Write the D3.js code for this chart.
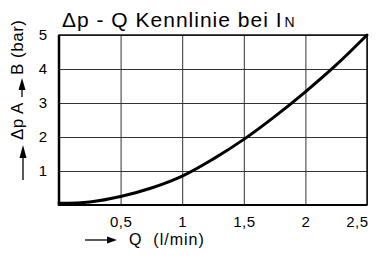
<!DOCTYPE html>
<html>
<head>
<meta charset="utf-8">
<script src="https://cdn.jsdelivr.net/npm/d3@7"></script>
<style>
  body { margin: 0; background: #fff; }
  text { font-family: "Liberation Sans", Arial, sans-serif; fill: #000; }
</style>
</head>
<body>
<div id="chart"></div>
<script>
// Werte
let durchfluss = [0, 0.25, 0.5, 0.75, 1, 1.25, 1.5, 1.75, 2, 2.25, 2.5]
let druck = [0.05, 0.09, 0.25, 0.5, 0.85, 1.35, 1.93, 2.6, 3.33, 4.12, 5.0]
let xTicks = [0.5, 1, 1.5, 2, 2.5]
let yTicks = [1, 2, 3, 4, 5]

let width = 379, height = 258
let margin = { top: 35, right: 12, bottom: 53, left: 59 }

let svg = d3.select("#chart").append("svg")
    .attr("width", width)
    .attr("height", height)

let x = d3.scaleLinear().domain([0, 2.5]).range([margin.left, width - margin.right])
let y = d3.scaleLinear().domain([0, 5]).range([height - margin.bottom, margin.top])

let komma = d => String(d).replace(".", ",")

// x Achse mit Gitter
let gx = svg.append("g")
    .attr("transform", "translate(0," + y(0) + ")")
    .call(d3.axisBottom(x).tickValues(xTicks).tickSize(-(y(0) - y(5))).tickPadding(11).tickFormat(komma))
gx.select(".domain").remove()
gx.selectAll(".tick line").attr("stroke", "#333").attr("stroke-width", 1)
gx.selectAll(".tick text").attr("font-size", "15px").attr("letter-spacing", "0.5px")
    .attr("font-family", "Liberation Sans, Arial, sans-serif")
gx.selectAll(".tick text").filter(d => d == 2.5).attr("text-anchor", "end").attr("x", 1)

// y Achse mit Gitter
let gy = svg.append("g")
    .attr("transform", "translate(" + x(0) + ",0)")
    .call(d3.axisLeft(y).tickValues(yTicks).tickSize(-(x(2.5) - x(0))).tickPadding(12).tickFormat(d => d))
gy.select(".domain").remove()
gy.selectAll(".tick line").attr("stroke", "#333").attr("stroke-width", 1)
gy.selectAll(".tick text").attr("font-size", "15px").attr("font-family", "Liberation Sans, Arial, sans-serif")

// Rahmen
svg.append("rect")
    .attr("x", x(0)).attr("y", y(5))
    .attr("width", x(2.5) - x(0)).attr("height", y(0) - y(5))
    .attr("fill", "none").attr("stroke", "#111").attr("stroke-width", 1.5)
svg.append("line")
    .attr("x1", x(0)).attr("x2", x(0)).attr("y1", y(5)).attr("y2", y(0) + 1)
    .attr("stroke", "#000").attr("stroke-width", 2.5)
svg.append("line")
    .attr("x1", x(0)).attr("x2", x(2.5)).attr("y1", y(0)).attr("y2", y(0))
    .attr("stroke", "#000").attr("stroke-width", 2)

// Kennlinie
let linie = d3.line()
    .x((d, i) => x(durchfluss[i]))
    .y(d => y(d))
    .curve(d3.curveCatmullRom)
svg.append("path")
    .datum(druck)
    .attr("d", linie)
    .attr("fill", "none")
    .attr("stroke", "#000")
    .attr("stroke-width", 3)
    .attr("stroke-linecap", "round")

// Titel
let titel = svg.append("text")
    .attr("x", 62).attr("y", 27)
    .attr("font-size", "21px")
    .attr("letter-spacing", "1px")
    .text("Δp - Q Kennlinie bei I")
titel.append("tspan").attr("dx", 2).attr("font-size", "14px").text("N")

// x Beschriftung
svg.append("line").attr("x1", 85).attr("x2", 108).attr("y1", 240).attr("y2", 240)
    .attr("stroke", "#000").attr("stroke-width", 1.3)
svg.append("path").attr("d", "M107,236.5L117,240L107,243.5Z").attr("fill", "#000")
svg.append("text").attr("x", 129).attr("y", 245)
    .attr("font-size", "16px")
    .attr("letter-spacing", "1px")
    .attr("xml:space", "preserve")
    .text("Q  (l/min)")

// y Beschriftung (gedreht)
let gl = svg.append("g").attr("transform", "translate(23,0) rotate(-90)")
gl.append("line").attr("x1", -180).attr("x2", -156).attr("y1", 0).attr("y2", 0)
    .attr("stroke", "#000").attr("stroke-width", 1.3)
gl.append("path").attr("d", "M-158,-3.5L-145,0L-158,3.5Z").attr("fill", "#000")
gl.append("text").attr("x", -140).attr("y", 0).attr("font-size", "17px")
    .attr("letter-spacing", "0.5px").text("Δp A")
gl.append("line").attr("x1", -97).attr("x2", -88).attr("y1", -1).attr("y2", -1)
    .attr("stroke", "#000").attr("stroke-width", 1.3)
gl.append("path").attr("d", "M-90,-4.5L-78,-1L-90,2.5Z").attr("fill", "#000")
gl.append("text").attr("x", -75).attr("y", 0).attr("font-size", "17px")
    .attr("letter-spacing", "0.5px")
    .attr("xml:space", "preserve").text("B (bar)")
</script>
</body>
</html>
